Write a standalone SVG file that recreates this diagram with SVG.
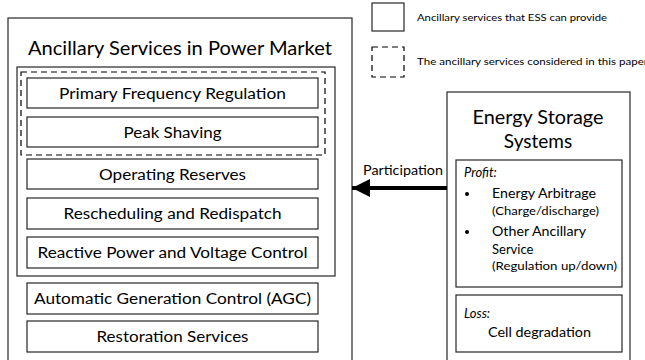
<svg xmlns="http://www.w3.org/2000/svg" width="645" height="360" viewBox="0 0 645 360">
<style>
  .box{fill:#fff;stroke:#262626;stroke-width:1.2}
  .dash{fill:none;stroke:#000;stroke-width:1.2;stroke-dasharray:6 4}
  text{font-family:Lato,"Liberation Sans",sans-serif;fill:#000}
  .lbl{font-size:15.5px;text-anchor:middle}
  .ttl{font-size:19px;text-anchor:middle}
  .leg{font-size:9.5px}
  .sm{font-size:13px}
  .xs{font-size:11.5px}
  .it{font-style:italic}
</style>
<defs>
  <marker id="ah" viewBox="0 0 10 10" refX="10" refY="5" markerWidth="4.5" markerHeight="4.5" orient="auto" markerUnits="strokeWidth">
    <path d="M0,0 L10,5 L0,10 z" fill="#000"/>
  </marker>
</defs>
<rect width="645" height="360" fill="#fff"/>

<g id="legend">
  <rect x="372" y="3" width="32" height="28" class="box"/>
  <text x="417" y="21" class="leg" textLength="190" lengthAdjust="spacingAndGlyphs">Ancillary services that ESS can provide</text>
  <rect x="372" y="47" width="32" height="30" class="dash" stroke-dasharray="6 5"/>
  <text x="417" y="65" class="leg" textLength="231" lengthAdjust="spacingAndGlyphs">The ancillary services considered in this paper</text>
</g>

<g id="market">
  <rect x="8" y="18" width="344" height="350" class="box"/>
  <text x="180" y="55" class="ttl" textLength="304" lengthAdjust="spacingAndGlyphs">Ancillary Services in Power Market</text>
  <rect x="17" y="67" width="318" height="209" class="box"/>
  <rect x="21" y="72" width="304" height="83" class="dash"/>
</g>

<g id="pfr"><rect x="27" y="78" width="291" height="30" class="box"/><text x="172.5" y="99" class="lbl" textLength="227" lengthAdjust="spacingAndGlyphs">Primary Frequency Regulation</text></g>
<g id="peak"><rect x="27" y="117" width="291" height="30" class="box"/><text x="172.5" y="138" class="lbl" textLength="98" lengthAdjust="spacingAndGlyphs">Peak Shaving</text></g>
<g id="reserves"><rect x="27" y="159" width="291" height="30" class="box"/><text x="172.5" y="180" class="lbl" textLength="147" lengthAdjust="spacingAndGlyphs">Operating Reserves</text></g>
<g id="resched"><rect x="27" y="198" width="291" height="31" class="box"/><text x="172.5" y="219" class="lbl" textLength="218" lengthAdjust="spacingAndGlyphs">Rescheduling and Redispatch</text></g>
<g id="reactive"><rect x="27" y="237" width="291" height="31" class="box"/><text x="172.5" y="258" class="lbl" textLength="270" lengthAdjust="spacingAndGlyphs">Reactive Power and Voltage Control</text></g>
<g id="agc"><rect x="27" y="283" width="291" height="31" class="box"/><text x="172.5" y="304" class="lbl" textLength="277" lengthAdjust="spacingAndGlyphs">Automatic Generation Control (AGC)</text></g>
<g id="restoration"><rect x="27" y="321" width="291" height="31" class="box"/><text x="172.5" y="342" class="lbl" textLength="152" lengthAdjust="spacingAndGlyphs">Restoration Services</text></g>

<g id="ess">
  <rect x="447" y="92" width="183" height="276" class="box"/>
  <text x="538" y="124" class="ttl" textLength="131" lengthAdjust="spacingAndGlyphs">Energy Storage</text>
  <text x="538" y="148" class="ttl">Systems</text>
</g>

<g id="profit">
  <rect x="456" y="160" width="166" height="127" class="box"/>
  <text x="464" y="177" class="sm it">Profit:</text>
  <circle cx="467" cy="194" r="2" fill="#000"/>
  <text x="492" y="198" class="sm" textLength="104" lengthAdjust="spacingAndGlyphs">Energy Arbitrage</text>
  <text x="492" y="215" class="xs" textLength="107" lengthAdjust="spacingAndGlyphs">(Charge/discharge)</text>
  <circle cx="467" cy="232" r="2" fill="#000"/>
  <text x="492" y="236" class="sm" textLength="94" lengthAdjust="spacingAndGlyphs">Other Ancillary</text>
  <text x="492" y="254" class="sm">Service</text>
  <text x="492" y="270" class="xs" textLength="125" lengthAdjust="spacingAndGlyphs">(Regulation up/down)</text>
</g>

<g id="loss">
  <rect x="456" y="295" width="166" height="57" class="box"/>
  <text x="464" y="318" class="sm it">Loss:</text>
  <text x="488" y="337" class="sm" textLength="103" lengthAdjust="spacingAndGlyphs">Cell degradation</text>
</g>

<g id="connectors">
  <line x1="447" y1="188" x2="352" y2="188" stroke="#000" stroke-width="4" marker-end="url(#ah)"/>
  <text x="403" y="175" class="sm" text-anchor="middle" textLength="80" lengthAdjust="spacingAndGlyphs">Participation</text>
</g>
</svg>
